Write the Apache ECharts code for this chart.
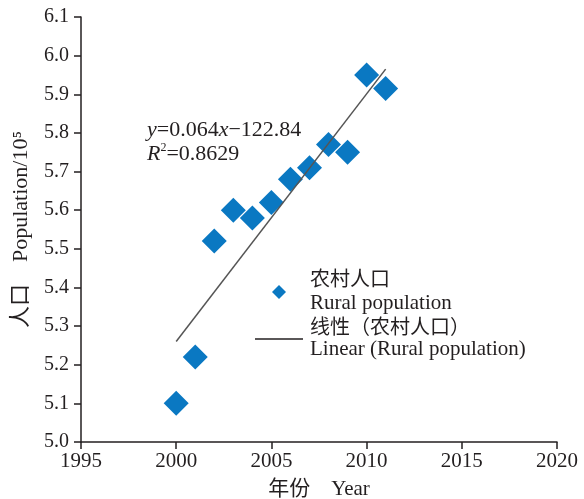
<!DOCTYPE html>
<html>
<head>
<meta charset="utf-8">
<script src="https://cdn.jsdelivr.net/npm/echarts@6/dist/echarts.min.js"></script>
<style>html,body{margin:0;padding:0;background:#fff;}#c{width:584px;height:499px;}</style>
</head>
<body>
<div id="c"></div>
<script>
const years = [2000, 2001, 2002, 2003, 2004, 2005, 2006, 2007, 2008, 2009, 2010, 2011];
const rural = [5.10, 5.22, 5.52, 5.60, 5.58, 5.62, 5.68, 5.71, 5.77, 5.75, 5.95, 5.915];
const trendYears = [2000, 2011];
const trendValues = [5.26, 5.965];
const xTicks = [1995, 2000, 2005, 2010, 2015, 2020];
const yTicks = [5.0, 5.1, 5.2, 5.3, 5.4, 5.5, 5.6, 5.7, 5.8, 5.9, 6.0, 6.1];
const seriesNames = ['农村人口', '线性（农村人口）'];
const seriesNamesEn = ['Rural population', 'Linear (Rural population)'];

const FONT = "'Liberation Serif', 'Noto Sans CJK SC', serif";
const TXT = '#231f20';
const BLUE = '#0a78c2';

const chart = echarts.init(document.getElementById('c'), null, {renderer: 'canvas'});
const option = {
  animation: false,
  backgroundColor: '#fff',
  grid: {left: 81, right: 27, top: 17, bottom: 57, containLabel: false, outerBoundsMode: 'none'},
  xAxis: {
    type: 'value', min: xTicks[0], max: xTicks[xTicks.length - 1], interval: 5,
    name: '年份　Year', nameLocation: 'middle', nameGap: 37,
    nameTextStyle: {fontFamily: FONT, fontSize: 21, color: TXT},
    axisLine: {show: true, lineStyle: {color: '#231f20', width: 1.5}},
    axisTick: {show: true, length: 7, lineStyle: {color: '#231f20', width: 1.5}},
    axisLabel: {fontFamily: FONT, fontSize: 21, color: TXT, margin: 9, formatter: v => String(v)},
    splitLine: {show: false}
  },
  yAxis: {
    type: 'value', min: yTicks[0], max: yTicks[yTicks.length - 1], interval: 0.1,
    name: '人口　Population/10⁵', nameLocation: 'middle', nameGap: 49,
    nameTextStyle: {fontFamily: FONT, fontSize: 22, color: TXT},
    axisLine: {show: true, lineStyle: {color: '#231f20', width: 1.5}},
    axisTick: {show: true, length: 7, lineStyle: {color: '#231f20', width: 1.5}},
    axisLabel: {fontFamily: FONT, fontSize: 20, color: TXT, margin: 12, formatter: v => v.toFixed(1)},
    splitLine: {show: false}
  },
  legend: [
    {
      data: [seriesNames[0]], orient: 'vertical', left: 272, top: 270, padding: 0,
      itemWidth: 14, itemHeight: 14, icon: 'diamond',
      formatter: n => '{s|}{a|' + n + '}\n{s|}{b|' + seriesNamesEn[0] + '}',
      textStyle: {color: TXT, fontFamily: FONT, fontSize: 21,
        rich: {s: {width: 19}, a: {fontFamily: FONT, fontSize: 20, lineHeight: 23, color: TXT}, b: {fontFamily: FONT, fontSize: 21, lineHeight: 23, color: TXT}}}
    },
    {
      data: [{name: seriesNames[1], icon: 'rect', itemStyle: {color: '#231f20'}}], orient: 'vertical', left: 255, top: 318, padding: 0,
      itemWidth: 48, itemHeight: 1.5,
      formatter: n => '{s|}{a|' + n + '}\n{s|}{b|' + seriesNamesEn[1] + '}',
      textStyle: {color: TXT, fontFamily: FONT, fontSize: 21,
        rich: {s: {width: 2}, a: {fontFamily: FONT, fontSize: 20, lineHeight: 21, color: TXT}, b: {fontFamily: FONT, fontSize: 21, lineHeight: 21, color: TXT}}}
    }
  ],
  graphic: [
    {
      type: 'text', left: 147, top: 119,
      style: {
        text: '{i|y}{n|=0.064}{i|x}{n|−122.84}\n{i|R}{s|2}{n|=0.8629}',
        fill: TXT,
        rich: {
          i: {fontFamily: FONT, fontStyle: 'italic', fontSize: 22, lineHeight: 24, fill: TXT},
          n: {fontFamily: FONT, fontSize: 22, lineHeight: 24, fill: TXT},
          s: {fontFamily: FONT, fontSize: 12, lineHeight: 24, fill: TXT, verticalAlign: 'top', padding: [0, 0, 9, 0]}
        }
      }
    }
  ],
  series: [
    {
      name: seriesNames[0], type: 'scatter', symbol: 'diamond', symbolSize: 25,
      itemStyle: {color: BLUE, opacity: 1},
      data: years.map((y, i) => [y, rural[i]]), z: 3
    },
    {
      name: seriesNames[1], type: 'line', symbol: 'none', showSymbol: false,
      lineStyle: {color: '#555', width: 1.5}, itemStyle: {color: '#231f20'},
      data: trendYears.map((y, i) => [y, trendValues[i]]), z: 4
    }
  ]
};
chart.setOption(option);
</script>
</body>
</html>
